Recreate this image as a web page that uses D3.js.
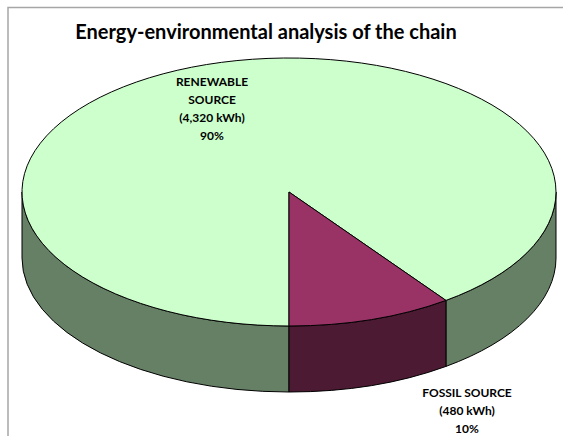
<!DOCTYPE html>
<html><head><meta charset="utf-8">
<script src="https://cdn.jsdelivr.net/npm/d3@7/dist/d3.min.js"></script>
<style>body{margin:0;background:#fff}svg{display:block}</style>
</head><body>
<svg id="chart" width="563" height="436"></svg>
<script>
const title = "Energy-environmental analysis of the chain";
const categories = ["RENEWABLE SOURCE", "FOSSIL SOURCE"];
const values = [4320, 480];
const units = ["kWh", "kWh"];
const percents = ["90%", "10%"];
const labelLines = [["RENEWABLE", "SOURCE", "(4,320 kWh)", "90%"], ["FOSSIL SOURCE", "(480 kWh)", "10%"]];
const topColors = ["#CCFFCC", "#993366"];
const sideColors = ["#668066", "#4D1A33"];

const svg = d3.select("#chart");
const W = 563, H = 436;
svg.append("rect").attr("width", W).attr("height", H).attr("fill", "#fff");
svg.append("rect").attr("x", 8).attr("y", 7.5).attr("width", 600).attr("height", 500)
  .attr("fill", "none").attr("stroke", "#a6a6a6").attr("stroke-width", 1.5);

svg.append("text").attr("x", 266).attr("y", 39).attr("text-anchor", "middle")
  .attr("font-family", "Lato, 'Open Sans', sans-serif").attr("font-weight", "bold")
  .attr("font-size", 20).attr("fill", "#000").text(title);

const cx = 289, cy = 192, rx = 267, ry = 134, depth = 66;
const pie = d3.pie().sort(null).startAngle(Math.PI).endAngle(3 * Math.PI);
const arcs = pie(values);
const pt = (a, dy = 0) => [cx + rx * Math.sin(a), cy - ry * Math.cos(a) + dy];

const sides = svg.append("g");
arcs.forEach((d, i) => {
  for (let k = -1; k <= 2; k++) {
    const f0 = Math.PI / 2 + 2 * Math.PI * k, f1 = 3 * Math.PI / 2 + 2 * Math.PI * k;
    const b0 = Math.max(d.startAngle, f0), b1 = Math.min(d.endAngle, f1);
    if (b1 - b0 > 1e-6) {
      const p0 = pt(b0), p1 = pt(b1), q1 = pt(b1, depth), q0 = pt(b0, depth);
      const path = `M${p0}A${rx},${ry} 0 0 1 ${p1}L${q1}A${rx},${ry} 0 0 0 ${q0}Z`;
      sides.append("path").attr("d", path).attr("fill", sideColors[i])
        .attr("stroke", "#000").attr("stroke-width", 1).attr("stroke-linejoin", "round");
    }
  }
});

const tops = svg.append("g");
arcs.forEach((d, i) => {
  const p0 = pt(d.startAngle), p1 = pt(d.endAngle);
  const large = (d.endAngle - d.startAngle) > Math.PI ? 1 : 0;
  const path = `M${cx},${cy}L${p0}A${rx},${ry} 0 ${large} 1 ${p1}Z`;
  tops.append("path").attr("d", path).attr("fill", topColors[i])
    .attr("stroke", "#000").attr("stroke-width", 1).attr("stroke-linejoin", "miter");
});

const labelPos = [{x: 212, y: 85.5, dy: 18}, {x: 467, y: 396.5, dy: 18}];
labelLines.forEach((lines, i) => {
  const t = svg.append("text").attr("text-anchor", "middle")
    .attr("font-family", "Lato, 'Open Sans', sans-serif").attr("font-weight", "bold")
    .attr("font-size", 12).attr("fill", "#000");
  lines.forEach((ln, j) => {
    t.append("tspan").attr("x", labelPos[i].x).attr("y", labelPos[i].y + j * labelPos[i].dy).text(ln);
  });
});
</script>
</body></html>
